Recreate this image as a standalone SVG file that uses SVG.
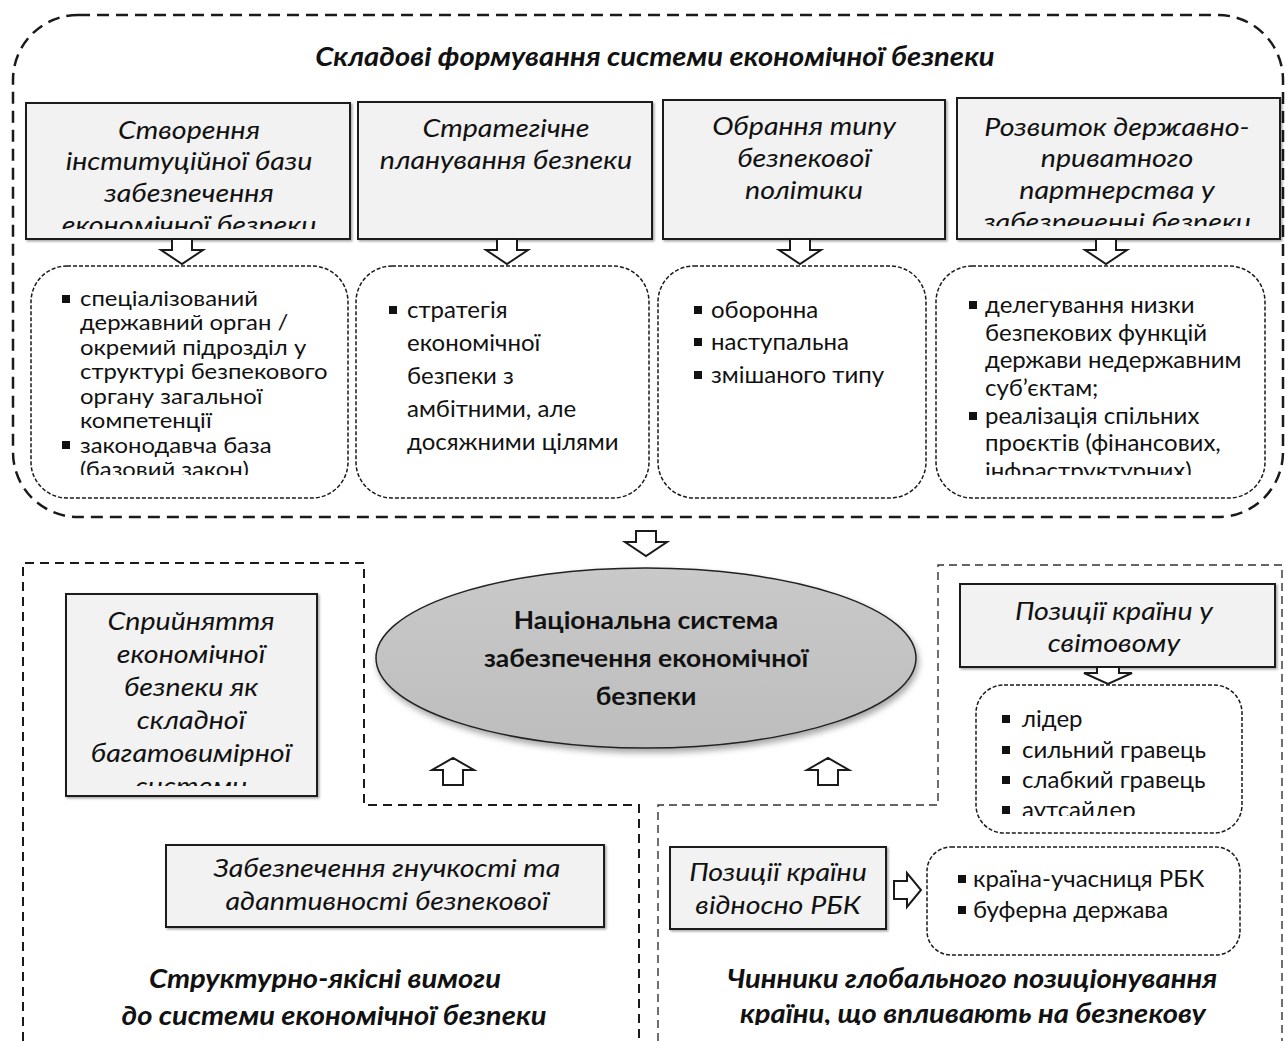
<svg xmlns="http://www.w3.org/2000/svg" width="1288" height="1041" viewBox="0 0 1288 1041">
<style>
.box{fill:#f2f2f2;stroke:#1a1a1a;stroke-width:2}
.dbox{fill:#fff;stroke:#1a1a1a;stroke-width:1.5;stroke-dasharray:4 2}
.it{font-family:Lato,"Liberation Sans",sans-serif;font-style:italic;font-size:26px;fill:#111;text-anchor:middle}
.bt{font-family:Lato,"Liberation Sans",sans-serif;font-size:24px;fill:#111}
.bs{font-family:Lato,"Liberation Sans",sans-serif;font-size:20.4px;fill:#111}
.hd{font-family:Lato,"Liberation Sans",sans-serif;font-style:italic;font-weight:bold;font-size:26.5px;fill:#111;text-anchor:middle}
.ct{font-family:Lato,"Liberation Sans",sans-serif;font-weight:bold;font-size:24.5px;fill:#111;text-anchor:middle}
.arr{fill:#fff;stroke:#1a1a1a;stroke-width:2;stroke-linejoin:miter}
.sq{fill:#111}
</style>
<defs>
<path id="aDown" d="M-10,0 H10 V11 H21 L0,25 L-21,11 H-10 Z"/>
<path id="aUp" d="M-10,27 H10 V12 H21 L0,0 L-21,12 H-10 Z"/>
<linearGradient id="eg" x1="0" y1="0" x2="0" y2="1">
<stop offset="0" stop-color="#c9c9c9"/><stop offset="1" stop-color="#bdbdbd"/>
</linearGradient>
<filter id="sh" x="-10%" y="-10%" width="120%" height="130%">
<feDropShadow dx="2" dy="4" stdDeviation="3" flood-color="#000" flood-opacity="0.35"/>
</filter>
<filter id="bs" x="-5%" y="-5%" width="115%" height="115%">
<feDropShadow dx="1.5" dy="1.5" stdDeviation="1" flood-color="#000" flood-opacity="0.35"/>
</filter>
<clipPath id="c1"><rect x="26" y="103" width="324" height="126"/></clipPath>
<clipPath id="c4"><rect x="957" y="98" width="323" height="128"/></clipPath>
<clipPath id="cb1"><rect x="31" y="266" width="317" height="209"/></clipPath>
<clipPath id="cb4"><rect x="936" y="266" width="329" height="209"/></clipPath>
<clipPath id="cs"><rect x="66" y="594" width="251" height="192"/></clipPath>
<clipPath id="cl"><rect x="976" y="685" width="266" height="131"/></clipPath>
<clipPath id="cbot"><rect x="0" y="940" width="650" height="90"/></clipPath>
<clipPath id="cbot2"><rect x="660" y="940" width="620" height="85"/></clipPath>
</defs>

<g id="frames" fill="none">
<rect x="13" y="15" width="1270" height="502" rx="65" ry="65" stroke="#1a1a1a" stroke-width="2.5" stroke-dasharray="12 7"/>
<path d="M23,1041 V563 H364 V805 H639 V1041" stroke="#1a1a1a" stroke-width="2" stroke-dasharray="9 6"/>
<path d="M658,1041 V805 H938 V565 H1282 V1041" stroke="#333" stroke-width="1.4" stroke-dasharray="8 5"/>
</g>

<text class="hd" transform="matrix(1.1 0 0 1 655 66)">Складові формування системи економічної безпеки</text>

<g id="n1">
<rect class="box" filter="url(#bs)" x="26" y="103" width="324" height="136"/>
<g clip-path="url(#c1)">
<text class="it" transform="matrix(1.1 0 0 1 189 139)">Створення</text>
<text class="it" transform="matrix(1.1 0 0 1 189 170)">інституційної бази</text>
<text class="it" transform="matrix(1.1 0 0 1 189 202)">забезпечення</text>
<text class="it" transform="matrix(1.1 0 0 1 189 234)">економічної безпеки</text>
</g>
</g>
<g id="n2">
<rect class="box" filter="url(#bs)" x="358" y="102" width="294" height="137"/>
<text class="it" transform="matrix(1.1 0 0 1 506 137)">Стратегічне</text>
<text class="it" transform="matrix(1.1 0 0 1 506 169)">планування безпеки</text>
</g>
<g id="n3">
<rect class="box" filter="url(#bs)" x="663" y="100" width="282" height="139"/>
<text class="it" transform="matrix(1.1 0 0 1 804 135)">Обрання типу</text>
<text class="it" transform="matrix(1.1 0 0 1 804 167)">безпекової</text>
<text class="it" transform="matrix(1.1 0 0 1 804 199)">політики</text>
</g>
<g id="n4">
<rect class="box" filter="url(#bs)" x="957" y="98" width="323" height="141"/>
<g clip-path="url(#c4)">
<text class="it" transform="matrix(1.1 0 0 1 1117 136)">Розвиток державно-</text>
<text class="it" transform="matrix(1.1 0 0 1 1117 167)">приватного</text>
<text class="it" transform="matrix(1.1 0 0 1 1117 199)">партнерства у</text>
<text class="it" transform="matrix(1.1 0 0 1 1117 231)">забезпеченні безпеки</text>
</g>
</g>

<g id="l1">
<rect class="dbox" x="31" y="266" width="317" height="232" rx="36"/>
<g clip-path="url(#cb1)">
<rect class="sq" x="62" y="295" width="8" height="8"/>
<rect class="sq" x="62" y="441" width="8" height="8"/>
<g transform="translate(80,0) scale(1.17,1)">
<text class="bs" x="0" y="306">спеціалізований</text>
<text class="bs" x="0" y="330.5">державний орган /</text>
<text class="bs" x="0" y="355">окремий підрозділ у</text>
<text class="bs" x="0" y="379.5">структурі безпекового</text>
<text class="bs" x="0" y="404">органу загальної</text>
<text class="bs" x="0" y="428.5">компетенції</text>
<text class="bs" x="0" y="453">законодавча база</text>
<text class="bs" x="0" y="477.5">(базовий закон)</text>
</g>
</g>
</g>
<g id="l2">
<rect class="dbox" x="356" y="266" width="293" height="232" rx="36"/>
<rect class="sq" x="389" y="306" width="8" height="8"/>
<text class="bt" x="407" y="318">стратегія</text>
<text class="bt" x="407" y="351">економічної</text>
<text class="bt" x="407" y="384">безпеки з</text>
<text class="bt" x="407" y="417">амбітними, але</text>
<text class="bt" x="407" y="450">досяжними цілями</text>
</g>
<g id="l3">
<rect class="dbox" x="658" y="266" width="268" height="232" rx="36"/>
<rect class="sq" x="694" y="306" width="8" height="8"/>
<text class="bt" x="711" y="318">оборонна</text>
<rect class="sq" x="694" y="338" width="8" height="8"/>
<text class="bt" x="711" y="350">наступальна</text>
<rect class="sq" x="694" y="371" width="8" height="8"/>
<text class="bt" x="711" y="383">змішаного типу</text>
</g>
<g id="l4">
<rect class="dbox" x="936" y="266" width="329" height="232" rx="36"/>
<g clip-path="url(#cb4)">
<rect class="sq" x="969" y="301" width="8" height="8"/>
<text class="bt" x="985" y="313">делегування низки</text>
<text class="bt" x="985" y="341">безпекових функцій</text>
<text class="bt" x="985" y="368">держави недержавним</text>
<text class="bt" x="985" y="396">суб’єктам;</text>
<rect class="sq" x="969" y="412" width="8" height="8"/>
<text class="bt" x="985" y="424">реалізація спільних</text>
<text class="bt" x="985" y="451">проєктів (фінансових,</text>
<text class="bt" x="985" y="479">інфраструктурних)</text>
</g>
</g>

<g id="center">
<ellipse cx="646" cy="658" rx="270" ry="90" fill="url(#eg)" stroke="#222" stroke-width="1.5" filter="url(#sh)"/>
<text class="ct" transform="matrix(1.08 0 0 1 646 629)">Національна система</text>
<text class="ct" transform="matrix(1.08 0 0 1 646 667)">забезпечення економічної</text>
<text class="ct" transform="matrix(1.08 0 0 1 646 705)">безпеки</text>
</g>

<g id="n5">
<rect class="box" filter="url(#bs)" x="66" y="594" width="251" height="202"/>
<g clip-path="url(#cs)">
<text class="it" transform="matrix(1.1 0 0 1 191 630)">Сприйняття</text>
<text class="it" transform="matrix(1.1 0 0 1 191 663)">економічної</text>
<text class="it" transform="matrix(1.1 0 0 1 191 696)">безпеки як</text>
<text class="it" transform="matrix(1.1 0 0 1 191 729)">складної</text>
<text class="it" transform="matrix(1.1 0 0 1 191 762)">багатовимірної</text>
<text class="it" transform="matrix(1.1 0 0 1 191 795)">системи</text>
</g>
</g>
<g id="n6">
<rect class="box" filter="url(#bs)" x="166" y="845" width="438" height="82"/>
<text class="it" transform="matrix(1.1 0 0 1 387 877)">Забезпечення гнучкості та</text>
<text class="it" transform="matrix(1.1 0 0 1 387 910)">адаптивності безпекової</text>
</g>
<g id="n7">
<rect class="box" filter="url(#bs)" x="960" y="584" width="315" height="83"/>
<text class="it" transform="matrix(1.1 0 0 1 1114 620)">Позиції країни у</text>
<text class="it" transform="matrix(1.1 0 0 1 1114 652)">світовому</text>
</g>
<g id="l7">
<rect class="dbox" x="976" y="685" width="266" height="148" rx="28"/>
<g clip-path="url(#cl)">
<rect class="sq" x="1002" y="715" width="8" height="8"/>
<text class="bt" x="1022" y="727">лідер</text>
<rect class="sq" x="1002" y="746" width="8" height="8"/>
<text class="bt" x="1022" y="758">сильний гравець</text>
<rect class="sq" x="1002" y="776" width="8" height="8"/>
<text class="bt" x="1022" y="788">слабкий гравець</text>
<rect class="sq" x="1002" y="806" width="8" height="8"/>
<text class="bt" x="1022" y="818">аутсайдер</text>
</g>
</g>
<g id="n8">
<rect class="box" filter="url(#bs)" x="670" y="847" width="216" height="82"/>
<text class="it" transform="matrix(1.1 0 0 1 778 881)">Позиції країни</text>
<text class="it" transform="matrix(1.1 0 0 1 778 914)">відносно РБК</text>
</g>
<g id="l8">
<rect class="dbox" x="927" y="847" width="313" height="108" rx="24"/>
<rect class="sq" x="958" y="875" width="8" height="8"/>
<text class="bt" x="973" y="887">країна-учасниця РБК</text>
<rect class="sq" x="958" y="906" width="8" height="8"/>
<text class="bt" x="973" y="918">буферна держава</text>
</g>

<g id="labels">
<g clip-path="url(#cbot)">
<text class="hd" transform="matrix(1.1 0 0 1 325 988)">Структурно-якісні вимоги</text>
<text class="hd" transform="matrix(1.1 0 0 1 334 1025)">до системи економічної безпеки</text>
</g>
<g clip-path="url(#cbot2)">
<text class="hd" transform="matrix(1.1 0 0 1 972 988)">Чинники глобального позиціонування</text>
<text class="hd" transform="matrix(1.1 0 0 1 973 1023)">країни, що впливають на безпекову</text>
</g>
</g>

<g id="connectors" class="arr">
<use href="#aDown" x="182" y="239"/>
<use href="#aDown" x="507" y="239"/>
<use href="#aDown" x="800" y="239"/>
<use href="#aDown" x="1106" y="239"/>
<use href="#aDown" x="646" y="531"/>
<use href="#aUp" x="453" y="758"/>
<use href="#aUp" x="828" y="758"/>
<path d="M1097,667 H1119 V673 H1132 L1108,684 L1084,673 H1097 Z"/>
<path d="M894,881 H907 V873 L921,890 L907,907 V899 H894 Z"/>
</g>
</svg>
